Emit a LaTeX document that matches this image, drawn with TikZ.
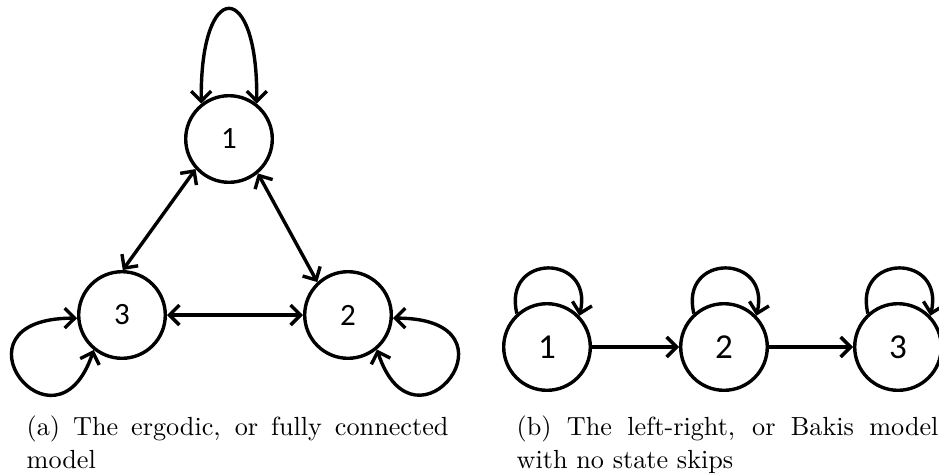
\documentclass[tikz,border=0pt]{standalone}
\usepackage{fontspec}
\newfontfamily\digitfont{Carlito}
\usetikzlibrary{arrows.meta}
\begin{document}
\begin{tikzpicture}[x=1pt,y=-1pt,line width=3.4pt,
  >={Straight Barb[length=10pt,width=20pt]},
  stateL/.style={circle,draw,minimum size=86.6pt,inner sep=0pt,font=\digitfont\fontsize{31}{31}\selectfont},
  stateR/.style={stateL,font=\digitfont\fontsize{35}{35}\selectfont},
  capt/.style={anchor=north west,inner sep=0pt}]
\useasboundingbox (0,0) rectangle (939,474);
% (a) ergodic model
\node[stateL] (a1) at (229,139) {1};
\node[stateL] (a3) at (122,315) {3};
\node[stateL] (a2) at (348,315) {2};
\draw[<->] (a1.222) -- (a3.89);
\draw[<->] (a1.310) -- (a2.133);
\draw[<->] (a3) -- (a2);
\draw[<->] (a1.128) .. controls (200,-22) and (258,-22) .. (a1.52);
\draw[<->] (a3.184) .. controls (-58,318) and (55,465) .. (a3.231);
\draw[<->] (a2.356) .. controls (528,318) and (415,465) .. (a2.310);
% (b) left-right model
\node[stateR] (b1) at (547,347) {1};
\node[stateR] (b2) at (724,347) {2};
\node[stateR] (b3) at (898,347) {3};
\draw[->] (b1) -- (b2);
\draw[->] (b2) -- (b3);
\draw[->] (b1.132) .. controls (502,253) and (594,253) .. (b1.44);
\draw[->] (b2.132) .. controls (679,253) and (771,253) .. (b2.44);
\draw[->] (b3.132) .. controls (853,253) and (945,253) .. (b3.44);
% captions
\node[capt] (ca) at (25,414) {\scalebox{2.62}{\parbox[t]{161pt}{\fontsize{10}{12.7}\selectfont (a) The ergodic, or fully connected model}}};
\node[capt] (cb) at (515,414) {\scalebox{2.62}{\parbox[t]{161pt}{\fontsize{10}{12.7}\selectfont (b) The left-right, or Bakis model with no state skips}}};
\end{tikzpicture}
\end{document}
